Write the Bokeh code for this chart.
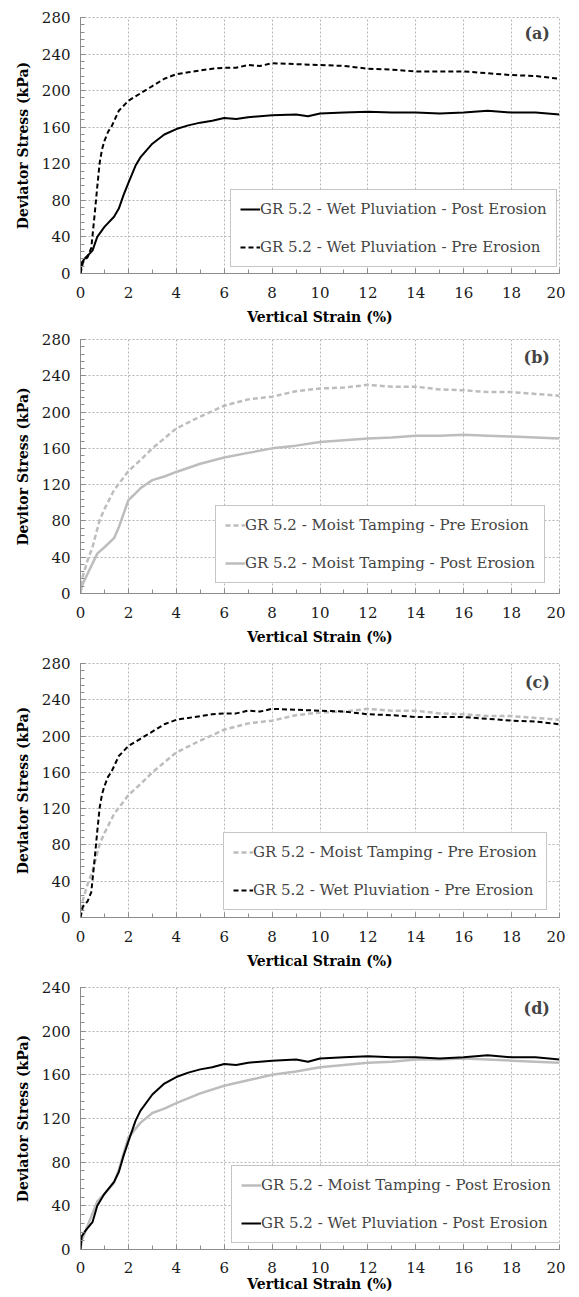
from bokeh.plotting import figure
from bokeh.models import Range1d, SingleIntervalTicker, Legend, LegendItem, Label
from bokeh.layouts import column
from bokeh.embed import file_html
from bokeh.resources import INLINE

# ---------------- data ----------------
wp_post_x = [0, 0.05, 0.2, 0.5, 0.7, 1.0, 1.4, 1.6, 1.8, 2.0, 2.3, 2.5, 3.0, 3.5, 4.0, 4.5, 5.0, 5.5,
             6.0, 6.5, 7.0, 8.0, 9.0, 9.5, 10, 11, 12, 13, 14, 15, 16, 17, 18, 19, 20]
wp_post_y = [0, 12, 17, 25, 40, 51, 62, 71, 86, 99, 118, 127, 142, 152, 158, 162, 165, 167,
             170, 169, 171, 173, 174, 172, 175, 176, 177, 176, 176, 175, 176, 178, 176, 176, 174]

wp_pre_x = [0, 0.1, 0.3, 0.45, 0.6, 0.7, 0.8, 0.9, 1.0, 1.15, 1.3, 1.6, 2.0, 2.5, 3.0, 3.5, 4.0, 4.5,
            5.0, 5.5, 6.0, 6.5, 7.0, 7.5, 8.0, 9.0, 10, 11, 12, 13, 14, 15, 16, 17, 18, 19, 20]
wp_pre_y = [0, 12, 18, 28, 67, 95, 121, 136, 145, 155, 161, 178, 189, 197, 205, 213, 218, 220,
            222, 224, 225, 225, 228, 227, 230, 229, 228, 227, 224, 223, 221, 221, 221, 219, 217, 216, 213]

mt_pre_x = [0, 0.05, 0.3, 0.5, 0.8, 1.0, 1.4, 2.0, 2.5, 3.0, 4.0, 5.0, 6.0, 7.0, 8.0, 9.0,
            10, 11, 12, 13, 14, 15, 16, 17, 18, 19, 20]
mt_pre_y = [0, 15, 37, 51, 81, 93, 114, 135, 147, 160, 182, 195, 207, 214, 217, 223,
            226, 227, 230, 228, 228, 225, 224, 222, 222, 220, 218]

mt_post_x = [0, 0.05, 0.3, 0.7, 1.0, 1.4, 1.6, 2.0, 2.2, 2.5, 3.0, 3.5, 4.0, 5.0, 6.0, 7.0, 8.0,
             9.0, 10, 11, 12, 13, 14, 15, 16, 17, 18, 19, 20]
mt_post_y = [0, 8, 22, 44, 51, 61, 73, 103, 108, 116, 125, 129, 134, 143, 150, 155, 160,
             163, 167, 169, 171, 172, 174, 174, 175, 174, 173, 172, 171]

lbl_wp_post = "GR 5.2 - Wet Pluviation - Post Erosion"
lbl_wp_pre = "GR 5.2 - Wet Pluviation - Pre Erosion"
lbl_mt_pre = "GR 5.2 - Moist Tamping - Pre Erosion"
lbl_mt_post = "GR 5.2 - Moist Tamping - Post Erosion"

x_title = "Vertical Strain (%)"
y_title = "Deviator Stress (kPa)"
y_title_b = "Devitor Stress (kPa)"

# ---------------- styles ----------------
FONT = "DejaVu Serif"
BLACK = "#000000"
GRAY = "#bdbdbd"
W = 565

STY = {
    "wp_post": dict(color=BLACK, line_width=2, line_dash="solid"),
    "wp_pre": dict(color=BLACK, line_width=2, line_dash="5 3"),
    "mt_pre": dict(color=GRAY, line_width=2.5, line_dash="5 3"),
    "mt_post": dict(color=GRAY, line_width=2.5, line_dash="solid"),
}
DATA = {
    "wp_post": (wp_post_x, wp_post_y, lbl_wp_post),
    "wp_pre": (wp_pre_x, wp_pre_y, lbl_wp_pre),
    "mt_pre": (mt_pre_x, mt_pre_y, lbl_mt_pre),
    "mt_post": (mt_post_x, mt_post_y, lbl_mt_post),
}


def make_panel(series, tag, ymax, ylab, left, top, frame_h, bottom, leg_xy, tag_y,
               tick_standoff, xlab_standoff):
    h = top + frame_h + bottom
    p = figure(width=W, height=h, output_backend="svg", toolbar_location=None,
               x_range=Range1d(0, 20), y_range=Range1d(0, ymax),
               min_border_left=left, min_border_right=6, min_border_top=top,
               min_border_bottom=bottom)
    p.xaxis.ticker = SingleIntervalTicker(interval=2, num_minor_ticks=2)
    p.yaxis.ticker = SingleIntervalTicker(interval=40, num_minor_ticks=5)
    for ax in (p.xaxis[0], p.yaxis[0]):
        ax.axis_line_color = "#8c8c8c"
        ax.major_tick_line_color = "#8c8c8c"
        ax.minor_tick_line_color = "#8c8c8c"
        ax.major_tick_in = 5
        ax.major_tick_out = 0
        ax.minor_tick_in = 4
        ax.minor_tick_out = 0
        ax.major_label_text_font = FONT
        ax.major_label_text_font_size = "15px"
        ax.major_label_text_color = "#1a1a1a"
        ax.axis_label_text_font = FONT
        ax.axis_label_text_font_style = "bold"
        ax.axis_label_text_font_size = "14px"
        ax.axis_label_text_color = "#000000"
    p.xaxis.axis_label = x_title
    p.yaxis.axis_label = ylab
    p.xaxis.major_label_standoff = tick_standoff
    p.xaxis.axis_label_standoff = xlab_standoff
    p.yaxis.major_label_standoff = 10
    p.yaxis.axis_label_standoff = 8
    p.grid.grid_line_color = "#b5b5b5"
    p.grid.grid_line_dash = "2 2"
    p.grid.grid_line_width = 1
    p.outline_line_color = "#b5b5b5"
    p.outline_line_dash = "2 2"
    p.background_fill_color = "white"
    p.border_fill_color = "white"

    items = []
    for key in series:
        xs, ys, lab = DATA[key]
        r = p.line(xs, ys, **STY[key])
        items.append(LegendItem(label=lab, renderers=[r]))
    leg = Legend(items=items, location=leg_xy, label_text_font=FONT,
                 label_text_font_size="15px", label_height=20, glyph_height=20,
                 glyph_width=20, label_standoff=0, spacing=18, padding=9,
                 border_line_color="#8c8c8c", border_line_width=1,
                 background_fill_color="white", background_fill_alpha=1.0, margin=0)
    p.add_layout(leg, "center")
    p.add_layout(Label(x=19.6, y=tag_y, text=tag, text_font=FONT, text_font_style="bold",
                       text_font_size="16px", text_align="right", text_baseline="middle"))
    return p


pa = make_panel(["wp_post", "wp_pre"], "(a)", 280, y_title, 70, 17, 256, 56, (150, 6), 262, 13, 8)
pb = make_panel(["mt_pre", "mt_post"], "(b)", 280, y_title_b, 78, 10, 254, 56, (135, 10), 260, 13, 8)
pc = make_panel(["mt_pre", "wp_pre"], "(c)", 280, y_title, 80, 14, 254, 56, (143, 7), 259, 13, 8)
pd = make_panel(["mt_post", "wp_post"], "(d)", 240, y_title, 78, 14, 262, 46, (151, 6), 221, 12, 0)

layout = column(pa, pb, pc, pd, spacing=0)
open("out.html", "w").write(file_html(layout, INLINE))
